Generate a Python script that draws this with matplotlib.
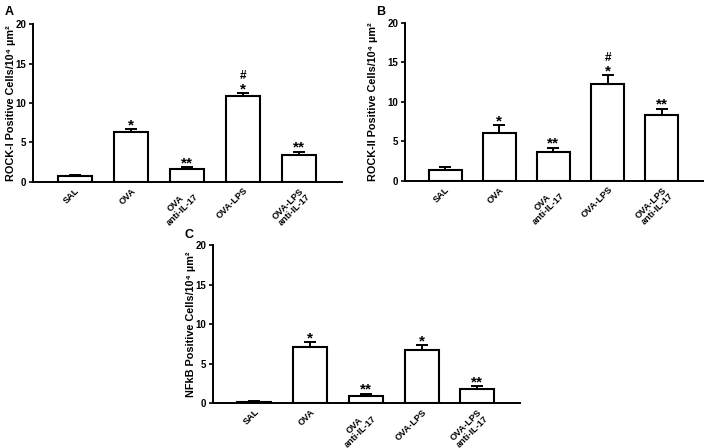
###############################################################################
### Positive cell counts (ROCK-I, ROCK-II, NFkB) per treatment group
###############################################################################

#------------------------------------------------------------------------------
### Import packages
import matplotlib.pyplot as plt
import numpy as np


#------------------------------------------------------------------------------
### Data

groups = ['SAL', 'OVA', 'OVA\nanti-IL-17', 'OVA-LPS', 'OVA-LPS\nanti-IL-17']

rock1_mean = [0.8, 6.3, 1.6, 10.85, 3.4]
rock1_err = [0.1, 0.4, 0.25, 0.4, 0.4]
rock1_stars = ['', '*', '**', '*', '**']
rock1_hash = [False, False, False, True, False]

rock2_mean = [1.45, 6.05, 3.7, 12.3, 8.35]
rock2_err = [0.3, 1.0, 0.5, 1.1, 0.8]
rock2_stars = ['', '*', '**', '*', '**']
rock2_hash = [False, False, False, True, False]

nfkb_mean = [0.18, 7.1, 0.95, 6.75, 1.82]
nfkb_err = [0.05, 0.6, 0.25, 0.55, 0.3]
nfkb_stars = ['', '*', '**', '*', '**']
nfkb_hash = [False, False, False, False, False]


#------------------------------------------------------------------------------
### Constants

FIG_W = 7.08
FIG_H = 4.48
FONT = ['Liberation Sans', 'DejaVu Sans']
BAR_WIDTH = 0.61
SPINE_WIDTH = 1.4


#------------------------------------------------------------------------------
### Functions

def bar_panel(fig, rect, mean, err, stars, hashes, ylabel, label_x,
	letter, letter_xy):
	ax = fig.add_axes(rect)
	x = np.arange(len(groups))

	# Bars (white with black outline) and one-sided error bars
	ax.bar(x, mean, width=BAR_WIDTH, color='white', edgecolor='black',
		linewidth=1.5, zorder=2)
	ax.errorbar(x, mean, yerr=[np.zeros(len(mean)), err], fmt='none',
		ecolor='black', elinewidth=1.4, capsize=4, capthick=1.4, zorder=1)

	# Significance marks above error bars (* vs SAL, # vs OVA)
	for xi, m, e, star, h in zip(x, mean, err, stars, hashes):
		if star:
			ax.annotate(star, (xi, m + e), xytext=(0, 0),
				textcoords='offset points', ha='center', va='baseline',
				fontsize=11, fontweight='bold', family=FONT)
		if h:
			ax.annotate('#', (xi, m + e), xytext=(0, 10),
				textcoords='offset points', ha='center', va='baseline',
				fontsize=8.5, fontweight='bold', family=FONT)

	# Axes styling
	ax.set_xlim(-0.74, 4.76)
	ax.set_ylim(0, 20)
	ax.set_yticks([0, 5, 10, 15, 20])
	ax.spines['top'].set_visible(False)
	ax.spines['right'].set_visible(False)
	ax.spines['left'].set_linewidth(SPINE_WIDTH)
	ax.spines['bottom'].set_linewidth(SPINE_WIDTH)
	ax.tick_params(axis='y', length=3, width=1.2, labelsize=7, pad=2)
	ax.tick_params(axis='x', length=0, pad=3)
	ax.set_xticks(x)
	ax.set_xticklabels(groups, rotation=45, ha='right',
		rotation_mode='anchor', fontsize=6.6, fontweight='bold',
		family=FONT, multialignment='center', linespacing=1.0)
	for lab in ax.get_yticklabels():
		lab.set_fontweight('bold')
		lab.set_family(FONT)
	ax.set_ylabel(ylabel, fontsize=7.8, fontweight='bold', family=FONT)
	ax.yaxis.set_label_coords(label_x, 0.5)

	# Panel letter
	fig.text(letter_xy[0], letter_xy[1], letter, fontsize=9,
		fontweight='bold', family=FONT, ha='left', va='center')
	return ax


#------------------------------------------------------------------------------
### Make figure

fig = plt.figure(figsize=(FIG_W, FIG_H), dpi=100)

bar_panel(fig, [0.047, 0.594, 0.436, 0.352], rock1_mean, rock1_err,
	rock1_stars, rock1_hash, 'ROCK-I Positive Cells/10⁴ µm²', -0.055,
	'A', (0.006, 0.973))
bar_panel(fig, [0.572, 0.596, 0.421, 0.353], rock2_mean, rock2_err,
	rock2_stars, rock2_hash, 'ROCK-II Positive Cells/10⁴ µm²', -0.09,
	'B', (0.531, 0.973))
bar_panel(fig, [0.301, 0.100, 0.433, 0.353], nfkb_mean, nfkb_err,
	nfkb_stars, nfkb_hash, 'NFkB Positive Cells/10⁴ µm²', -0.055,
	'C', (0.261, 0.475))

plt.savefig('out.png', dpi=100)
plt.close()
